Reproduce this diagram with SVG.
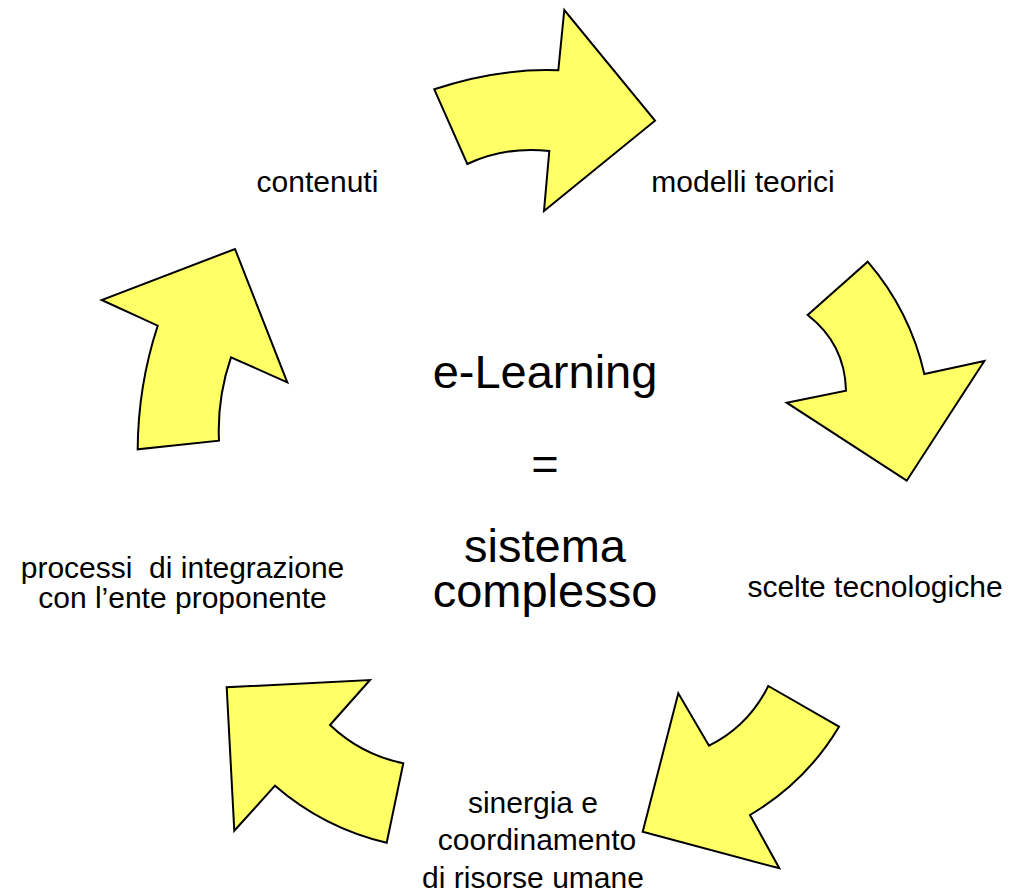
<svg xmlns="http://www.w3.org/2000/svg" width="1021" height="894" viewBox="0 0 1021 894">
<style>
.arrow{fill:#FFFF66;stroke:#000;stroke-width:2;stroke-linejoin:miter}
.lbl{font-family:"Liberation Sans",Arial,sans-serif;font-size:30px;fill:#000}
.big{font-family:"Liberation Sans",Arial,sans-serif;font-size:47px;fill:#000}
</style>
<rect width="1021" height="894" fill="#fff"/>
<g id="connectors">
<path id="arrow1" class="arrow" d="M434.3,89.3 Q498,68 558.3,70.3 L564.3,10 L655,120.7 L544,211 L549.3,151 Q506,146 467.3,164 Z"/>
<path id="arrow2" class="arrow" d="M867.7,261.7 Q910,311 924.3,374 L984.3,361 L906.7,480.7 L786.7,402.7 L846,390.7 Q845,344 807.7,315 Z"/>
<path id="arrow3" class="arrow" d="M768.3,686 L839,726.7 Q806,782 750,815 L779.3,868.3 L642.7,831.7 L678.3,693.3 L709,745.7 Q748.5,726 768.3,686 Z"/>
<path id="arrow4" class="arrow" d="M370,680 L330,725 Q361,754.6 403.3,763.3 L386.7,842.7 Q323.8,828 275,785.7 L234.3,830.7 L226.7,687.3 Z"/>
<path id="arrow5" class="arrow" d="M235,249 L287.3,382.3 L231,357.3 Q217,398 219,440.7 L137.7,449.3 Q138,386 157.7,325.7 L101.7,300 Z"/>
</g>
<g id="center">
<text class="big" x="545" y="388" text-anchor="middle">e-Learning</text>
<text class="big" x="545" y="480" text-anchor="middle">=</text>
<text class="big" x="545" y="562" text-anchor="middle">sistema</text>
<text class="big" x="545" y="607" text-anchor="middle">complesso</text>
</g>
<g id="node-contenuti"><text class="lbl" x="317.5" y="192" text-anchor="middle">contenuti</text></g>
<g id="node-modelli"><text class="lbl" x="743" y="192" text-anchor="middle">modelli teorici</text></g>
<g id="node-scelte"><text class="lbl" x="875" y="597" text-anchor="middle">scelte tecnologiche</text></g>
<g id="node-sinergia">
<text class="lbl" x="533" y="813" text-anchor="middle">sinergia e</text>
<text class="lbl" x="537" y="850" text-anchor="middle">coordinamento</text>
<text class="lbl" x="533" y="888" text-anchor="middle">di risorse umane</text>
</g>
<g id="node-processi">
<text class="lbl" x="182.5" y="578" text-anchor="middle" xml:space="preserve">processi  di integrazione</text>
<text class="lbl" x="182.5" y="608" text-anchor="middle">con l’ente proponente</text>
</g>
</svg>
